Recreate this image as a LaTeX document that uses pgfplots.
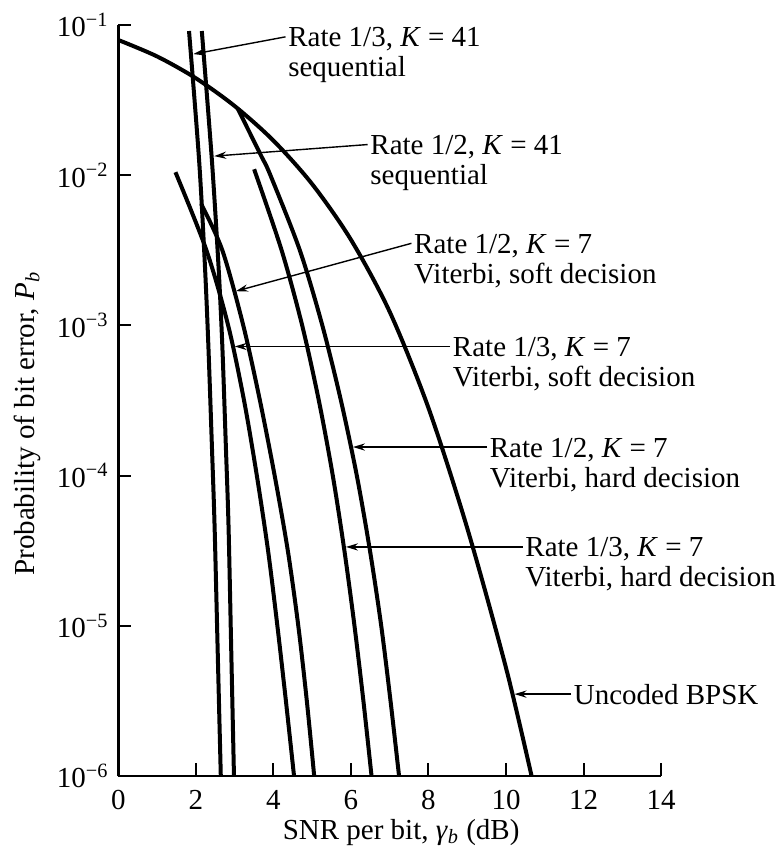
\documentclass[border=0pt]{standalone}
\usepackage{fontspec}
\setmainfont{Liberation Serif}
\usepackage{pgfplots}
\pgfplotsset{compat=1.18}
\usetikzlibrary{arrows.meta}
\newcommand\ann[7]{%
  \draw[-{Stealth[length=6pt,width=3.6pt]}, line width=0.7pt] (axis cs:#1,#2) -- (axis cs:#3,#4);
  \node[anchor=base west, inner sep=1.2pt] at ([yshift=-5pt]axis cs:#1,#2) {#5};
  \node[anchor=base west, inner sep=1.2pt] at ([yshift=-20pt]axis cs:#1,#2) {#6#7};
}
\begin{document}
\fontsize{14.5}{17}\selectfont
\begin{tikzpicture}[font=\fontsize{14.5}{17}\selectfont]
\begin{axis}[
  scale only axis, width=271.25pt, height=375.5pt,
  xmin=0, xmax=14, ymin=1e-6, ymax=1e-1, ymode=log,
  enlargelimits=false,
  axis lines=left, axis line style={-, line width=1.4pt},
  tick align=inside, major tick length=6.5pt,
  tick style={line width=1pt, black},
  xtick={0,2,...,14},
  ytick={1e-6,1e-5,1e-4,1e-3,1e-2,1e-1},
  yticklabels={10\textsuperscript{−6},10\textsuperscript{−5},10\textsuperscript{−4},10\textsuperscript{−3},10\textsuperscript{−2},10\textsuperscript{−1}},
  yminorticks=false,
  /pgf/number format/assume math mode=true,
  xticklabel style={yshift=-2pt},
  xlabel={SNR per bit, \textit{γ}\textsubscript{\textit{b}} (dB)},
  ylabel={Probability of bit error, \textit{P}\textsubscript{\textit{b}}},
  xlabel style={at={(axis description cs:0.521,-0.0746)},anchor=center},
  ylabel style={at={(axis description cs:-0.167,0.469)},anchor=center},
  clip=false,
  curve/.style={line width=2pt, black, solid, smooth, mark=none, line join=round},
]
% Uncoded BPSK
\addplot[curve] coordinates {(0,0.0794) (1,0.0617) (2,0.04416) (3,0.02884) (4,0.01698) (5,0.00871) (6,0.003715) (7,0.00123) (8,2.818e-4) (9,4.467e-5) (10,5.25e-6) (10.66,1e-6)};
% Rate 1/3, K=41 sequential
\addplot[curve] coordinates {(1.82,0.0912) (2.08,0.01259) (2.23,0.00251) (2.32,7.24e-4) (2.41,1.585e-4) (2.48,4.57e-5) (2.56,6.76e-6) (2.64,1e-6)};
% Rate 1/2, K=41 sequential
\addplot[curve] coordinates {(2.15,0.0912) (2.41,0.01259) (2.58,0.00251) (2.68,7.24e-4) (2.77,1.585e-4) (2.84,4.57e-5) (2.91,6.76e-6) (2.98,1e-6)};
% Rate 1/3, K=7 soft
\addplot[curve] coordinates {(1.47,0.01047) (2.27,0.003162) (2.83,0.001) (3.24,3.162e-4) (3.57,1e-4) (3.86,3.162e-5) (4.10,1e-5) (4.32,3.162e-6) (4.53,1e-6)};
% Rate 1/2, K=7 soft
\addplot[curve] coordinates {(2.13,0.00646) (2.68,0.003162) (3.22,0.001) (3.65,3.162e-4) (4.03,1e-4) (4.37,3.162e-5) (4.64,1e-5) (4.86,3.162e-6) (5.05,1e-6)};
% Rate 1/3, K=7 hard
\addplot[curve] coordinates {(3.50,0.01096) (4.21,0.003162) (4.74,0.001) (5.17,3.162e-4) (5.53,1e-4) (5.83,3.162e-5) (6.09,1e-5) (6.32,3.162e-6) (6.53,1e-6)};
% Rate 1/2, K=7 hard
\addplot[curve] coordinates {(3.08,0.02767) (3.67,0.01365) (3.92,0.01) (4.68,0.003162) (5.26,0.001) (5.74,3.162e-4) (6.15,1e-4) (6.49,3.162e-5) (6.78,1e-5) (7.02,3.162e-6) (7.24,1e-6)};

\ann{4.31}{0.0834}{1.93}{0.0640}{Rate 1/3, \textit{K} = 41}{sequential}{}
\ann{6.43}{0.0160}{2.47}{0.0134}{Rate 1/2, \textit{K} = 41}{sequential}{}
\ann{7.56}{0.00352}{3.03}{0.00169}{Rate 1/2, \textit{K} = 7}{Viterbi, soft decision}{}
\ann{8.56}{7.24e-4}{3.00}{7.24e-4}{Rate 1/3, \textit{K} = 7}{Viterbi, soft decision}{}
\ann{9.51}{1.55e-4}{6.05}{1.55e-4}{Rate 1/2, \textit{K} = 7}{Viterbi, hard decision}{}
\ann{10.43}{3.35e-5}{5.87}{3.35e-5}{Rate 1/3, \textit{K} = 7}{Viterbi, hard decision}{}
\draw[-{Stealth[length=6pt,width=3.6pt]}, line width=0.7pt] (axis cs:11.68,3.51e-6) -- (axis cs:10.22,3.51e-6);
\node[anchor=west, inner sep=1.2pt] at (axis cs:11.68,3.51e-6) {Uncoded BPSK};
\coordinate (sw) at (rel axis cs:0,0);
\end{axis}
\pgfresetboundingbox
\path ([shift={(-59.25pt,-40.5pt)}]sw) rectangle ++(390pt,428.5pt);
\end{tikzpicture}
\end{document}
